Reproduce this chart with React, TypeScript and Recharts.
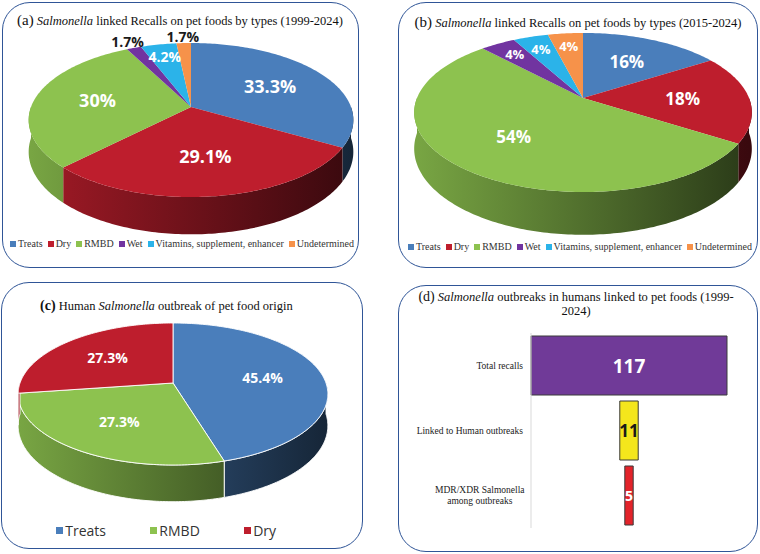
import React from 'react';
import { PieChart, Pie, Cell, Legend, BarChart, Bar, XAxis, YAxis, LabelList } from 'recharts';

const recallTypes = ['Treats', 'Dry', 'RMBD', 'Wet', 'Vitamins, supplement, enhancer', 'Undetermined'];
const recalls1999to2024 = [33.3, 29.1, 30, 1.7, 4.2, 1.7];
const recalls2015to2024 = [16, 18, 54, 4, 4, 4];
const outbreakTypes = ['Treats', 'RMBD', 'Dry'];
const outbreakShares = [45.4, 27.3, 27.3];
const funnelLabels = ['Total recalls', 'Linked to Human outbreaks', 'MDR/XDR Salmonella among outbreaks'];
const funnelValues = [117, 11, 5];

const typeColors: Record<string, string> = {
  Treats: '#4A7EBB',
  Dry: '#BE1E2D',
  RMBD: '#8DC24F',
  Wet: '#7134A0',
  'Vitamins, supplement, enhancer': '#2BB3E9',
  Undetermined: '#F6924A',
};
const funnelColors = ['#703A98', '#F4E61C', '#E3232A'];
const funnelTextColors = ['#ffffff', '#1a1a1a', '#ffffff'];

const SERIF = '"Liberation Serif", "Times New Roman", serif';
const SANS = '"Open Sans", "Noto Sans", sans-serif';
const BORDER = '#2F5597';

type Persp = { A: number; B: number; k: number; D: number };

// perspective view of a tilted disc, phi measured clockwise from 12 o'clock
const project = (cx: number, cy: number, p: Persp, phiDeg: number, r = 1) => {
  const t = (phiDeg * Math.PI) / 180;
  const u = r * Math.sin(t);
  const v = -r * Math.cos(t);
  const w = 1 - p.k * v;
  return { x: cx + (p.A * u) / w, y: cy + (p.B * v) / w, w };
};

const shade = (hex: string, f: number) => {
  const n = parseInt(hex.slice(1), 16);
  const c = [(n >> 16) & 255, (n >> 8) & 255, n & 255].map((x) => Math.round(x * f));
  return `rgb(${c[0]},${c[1]},${c[2]})`;
};

const makeSlice = (id: string, p: Persp, sep: string) => (props: any) => {
  const { cx, cy, startAngle, endAngle, fill, index, outerRadius } = props;
  const q = { ...p, A: outerRadius };
  const a = 90 - startAngle;
  const b = 90 - endAngle;
  const rim = (from: number, to: number) => {
    const n = Math.max(2, Math.ceil(to - from));
    const pts = [];
    for (let i = 0; i <= n; i++) pts.push(project(cx, cy, q, from + ((to - from) * i) / n));
    return pts;
  };
  const top = rim(a, b);
  const topPath = `M${cx},${cy} ` + top.map((pt) => `L${pt.x},${pt.y}`).join(' ') + ' Z';
  const fa = Math.max(a, 90);
  const fb = Math.min(b, 270);
  let wallPath = '';
  if (fb > fa) {
    const edge = rim(fa, fb);
    const lower = edge.map((pt) => ({ x: pt.x, y: pt.y + p.D / pt.w })).reverse();
    wallPath = 'M' + edge.concat(lower).map((pt) => `${pt.x},${pt.y}`).join(' L') + ' Z';
  }
  const gid = `wall-${id}-${index}`;
  const sw = sep === 'none' ? 0 : 0.9;
  return (
    <g>
      <defs>
        <linearGradient id={gid} gradientUnits="userSpaceOnUse" x1={cx - q.A} x2={cx + q.A} y1={0} y2={0}>
          <stop offset="0" stopColor={shade(fill, 0.85)} />
          <stop offset="1" stopColor={shade(fill, 0.3)} />
        </linearGradient>
      </defs>
      {wallPath && <path d={wallPath} fill={`url(#${gid})`} stroke={sep} strokeWidth={sw} />}
      <path d={topPath} fill={fill} stroke={sep} strokeWidth={sw} />
    </g>
  );
};

const makeLabel = (p: Persp, big: number, small: number) => (props: any) => {
  const { cx, cy, midAngle, outerRadius, percent, value } = props;
  const outside = percent < 0.03;
  const r = outside ? 1.13 : percent < 0.06 ? 0.78 : 0.6;
  const pt = project(cx, cy, { ...p, A: outerRadius }, 90 - midAngle, r);
  return (
    <text
      x={pt.x}
      y={pt.y}
      textAnchor="middle"
      dominantBaseline="central"
      fill={outside ? '#1a1a1a' : '#ffffff'}
      fontSize={percent < 0.06 ? small : big}
      fontWeight={700}
      fontFamily={SANS}
    >
      {`${value}%`}
    </text>
  );
};

const makeLegend = (order: string[], font: string, size: number, sq: number, itemGap: number) => (props: any) => {
  const items = [...(props.payload || [])].sort((p: any, q: any) => order.indexOf(p.value) - order.indexOf(q.value));
  return (
    <div
      style={{
        display: 'flex',
        justifyContent: 'center',
        alignItems: 'center',
        whiteSpace: 'nowrap',
        fontFamily: font,
        fontSize: size,
        color: '#333',
      }}
    >
      {items.map((e: any, i: number) => (
        <span key={i} style={{ display: 'inline-flex', alignItems: 'center', marginLeft: i ? itemGap : 0 }}>
          <span style={{ width: sq, height: sq, background: e.color, marginRight: Math.max(2, sq / 3), display: 'inline-block' }} />
          {e.value}
        </span>
      ))}
    </div>
  );
};

const FunnelTick = (props: any) => {
  const { x, y, payload } = props;
  const text = String(payload.value);
  const lines: string[] = [];
  if (text.length > 28) {
    let cur = '';
    text.split(' ').forEach((w) => {
      const next = cur ? cur + ' ' + w : w;
      if (next.length > 19 && cur) {
        lines.push(cur);
        cur = w;
      } else cur = next;
    });
    lines.push(cur);
  } else lines.push(text);
  const multi = lines.length > 1;
  const longest = Math.max(...lines.map((l) => l.length));
  const tx = multi ? x - longest * 2.4 : x;
  return (
    <text
      x={tx}
      y={y - ((lines.length - 1) * 11) / 2}
      textAnchor={multi ? 'middle' : 'end'}
      dominantBaseline="central"
      fontFamily={SERIF}
      fontSize={9.5}
      fill="#222"
    >
      {lines.map((l, i) => (
        <tspan key={i} x={tx} dy={i ? 11 : 0}>
          {l}
        </tspan>
      ))}
    </text>
  );
};

const FunnelLabel = (props: any) => {
  const { x, y, width, height, value, index } = props;
  const size = index === 0 ? 19 : index === 1 ? 17 : 14;
  return (
    <text
      x={x + width / 2}
      y={y + height / 2}
      textAnchor="middle"
      dominantBaseline="central"
      fill={funnelTextColors[index]}
      fontFamily={SANS}
      fontWeight={700}
      fontSize={size}
    >
      {value}
    </text>
  );
};

const Box = ({ left, top, width, height }: any) => (
  <div
    style={{
      position: 'absolute',
      left,
      top,
      width,
      height,
      border: `1.5px solid ${BORDER}`,
      borderRadius: 28,
      boxSizing: 'border-box',
    }}
  />
);

const perspA: Persp = { A: 160, B: 74.8, k: 0.169, D: 31 };
const perspB: Persp = { A: 166, B: 76.9, k: 0.182, D: 35 };
const perspC: Persp = { A: 153, B: 69.3, k: 0.155, D: 31 };

export default function App() {
  const dataA = recallTypes.map((name, i) => ({ name, value: recalls1999to2024[i] }));
  const dataB = recallTypes.map((name, i) => ({ name, value: recalls2015to2024[i] }));
  const dataC = outbreakTypes.map((name, i) => ({ name, value: outbreakShares[i] }));
  const maxV = Math.max(...funnelValues);
  const dataD = funnelLabels.map((name, i) => ({
    name,
    value: funnelValues[i],
    span: [(maxV - funnelValues[i]) / 2, (maxV + funnelValues[i]) / 2],
  }));
  const noMargin = { top: 0, right: 0, bottom: 0, left: 0 };

  const sliceA = makeSlice('a', perspA, 'none');
  const sliceB = makeSlice('b', perspB, 'none');
  const sliceC = makeSlice('c', perspC, '#ffffff');

  return (
    <div style={{ position: 'absolute', left: 0, top: 0, width: 760, height: 554, background: '#fff', overflow: 'hidden' }}>
      <Box left={2} top={2} width={357} height={266} />
      <Box left={398} top={2} width={360} height={266} />
      <Box left={1} top={282} width={362} height={267} />
      <Box left={398} top={285} width={360} height={267} />

      {/* (a) */}
      <div style={{ position: 'absolute', left: 0, top: 0 }}>
        <PieChart width={380} height={280} margin={noMargin}>
          <Pie
            data={dataA}
            dataKey="value"
            nameKey="name"
            cx={191}
            cy={107}
            outerRadius={perspA.A}
            startAngle={90}
            endAngle={-270}
            stroke="none"
            shape={sliceA}
            inactiveShape={sliceA}
            activeShape={sliceA}
            label={makeLabel(perspA, 18, 14)}
            labelLine={false}
            isAnimationActive={false}
          >
            {dataA.map((d) => (
              <Cell key={d.name} fill={typeColors[d.name]} />
            ))}
          </Pie>
          <Legend
            verticalAlign="bottom"
            content={makeLegend(recallTypes, SERIF, 10, 6, 5)}
            wrapperStyle={{ left: 4, top: 238, width: 356 }}
          />
        </PieChart>
      </div>
      <div
        style={{
          position: 'absolute', left: 2, width: 356, top: 13, textAlign: 'center', fontFamily: SERIF,
          fontSize: 12.5, lineHeight: '14px', color: '#111', whiteSpace: 'nowrap',
        }}
      >
        <span style={{ fontSize: 15 }}>(a)</span> <i>Salmonella</i> linked Recalls on pet foods by types (1999-2024)
      </div>

      {/* (b) */}
      <div style={{ position: 'absolute', left: 380, top: 0 }}>
        <PieChart width={380} height={280} margin={noMargin}>
          <Pie
            data={dataB}
            dataKey="value"
            nameKey="name"
            cx={203}
            cy={98}
            outerRadius={perspB.A}
            startAngle={90}
            endAngle={-270}
            stroke="none"
            shape={sliceB}
            inactiveShape={sliceB}
            activeShape={sliceB}
            label={makeLabel(perspB, 17, 13)}
            labelLine={false}
            isAnimationActive={false}
          >
            {dataB.map((d) => (
              <Cell key={d.name} fill={typeColors[d.name]} />
            ))}
          </Pie>
          <Legend
            verticalAlign="bottom"
            content={makeLegend(recallTypes, SERIF, 10, 6, 5)}
            wrapperStyle={{ left: 20, top: 241, width: 360 }}
          />
        </PieChart>
      </div>
      <div
        style={{
          position: 'absolute', left: 398, width: 360, top: 15, textAlign: 'center', fontFamily: SERIF,
          fontSize: 12.5, lineHeight: '14px', color: '#111', whiteSpace: 'nowrap',
        }}
      >
        <span style={{ fontSize: 15 }}>(b)</span> <i>Salmonella</i> linked Recalls on pet foods by types (2015-2024)
      </div>

      {/* (c) */}
      <div style={{ position: 'absolute', left: 0, top: 280 }}>
        <PieChart width={380} height={274} margin={noMargin}>
          <Pie
            data={dataC}
            dataKey="value"
            nameKey="name"
            cx={173}
            cy={103}
            outerRadius={perspC.A}
            startAngle={90}
            endAngle={-270}
            stroke="#ffffff"
            shape={sliceC}
            inactiveShape={sliceC}
            activeShape={sliceC}
            label={makeLabel(perspC, 14, 14)}
            labelLine={false}
            isAnimationActive={false}
          >
            {dataC.map((d) => (
              <Cell key={d.name} fill={typeColors[d.name]} />
            ))}
          </Pie>
          <Legend
            verticalAlign="bottom"
            content={makeLegend(outbreakTypes, SANS, 14, 7, 44)}
            wrapperStyle={{ left: 0, top: 241, width: 332 }}
          />
        </PieChart>
      </div>
      <div
        style={{
          position: 'absolute', left: 40, top: 297, fontFamily: SERIF,
          fontSize: 12.5, lineHeight: '18px', color: '#111', whiteSpace: 'nowrap',
        }}
      >
        <span style={{ fontSize: 14, fontWeight: 700 }}>(c)</span> Human <i>Salmonella</i> outbreak of pet food origin
      </div>

      {/* (d) */}
      <div
        style={{
          position: 'absolute', left: 398, width: 356, top: 290, textAlign: 'center', fontFamily: SERIF,
          fontSize: 12.5, lineHeight: '14px', color: '#111',
        }}
      >
        <span style={{ fontSize: 14 }}>(d)</span> <i>Salmonella</i> outbreaks in humans linked to pet foods (1999-
        <br />
        2024)
      </div>
      <div style={{ position: 'absolute', left: 398, top: 320 }}>
        <BarChart
          layout="vertical"
          width={360}
          height={220}
          data={dataD}
          margin={{ top: 13, right: 31, bottom: 12, left: 0 }}
          barCategoryGap={3}
        >
          <XAxis type="number" domain={[0, maxV]} hide />
          <YAxis
            type="category"
            dataKey="name"
            width={133}
            axisLine={{ stroke: '#D9D9D9' }}
            tickLine={false}
            tick={<FunnelTick />}
            interval={0}
          />
          <Bar dataKey="span" stroke="#3a3a3a" strokeWidth={1} isAnimationActive={false}>
            {dataD.map((d, i) => (
              <Cell key={d.name} fill={funnelColors[i]} />
            ))}
            <LabelList dataKey="value" content={<FunnelLabel />} />
          </Bar>
        </BarChart>
      </div>
    </div>
  );
}
